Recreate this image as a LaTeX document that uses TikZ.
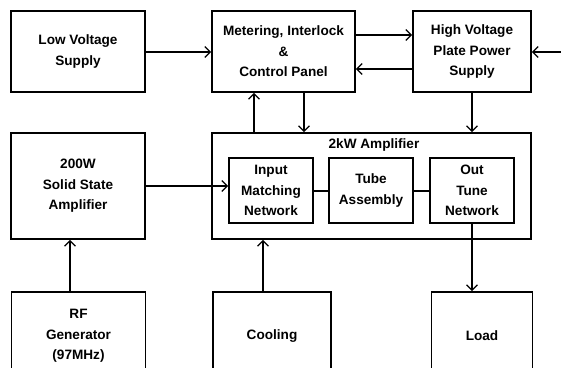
\documentclass[tikz,border=0pt]{standalone}
\usepackage{fontspec}
\setmainfont{Liberation Sans}
\usetikzlibrary{arrows.meta}
\tikzset{
  blk/.style={draw,line width=1.6pt,align=center,inner sep=0pt,
    font=\fontsize{13.6}{20.5}\selectfont\bfseries},
  arr/.style={line width=1.6pt,-{Straight Barb[length=5.5pt,width=11pt,line width=1.3pt]}}
}
\begin{document}
\begin{tikzpicture}[x=1pt,y=-1pt]
\useasboundingbox(0,0)rectangle(561,367);
\clip(0,0)rectangle(561,367);
% top row
\node[blk,minimum width=134pt,minimum height=81pt](lv)at(78,51.5){Low Voltage\\Supply};
\node[blk,minimum width=143pt,minimum height=81pt](met)at(283.5,51.5){Metering, Interlock\\\&\\Control Panel};
\node[blk,minimum width=118pt,minimum height=81pt](hv)at(472,51.5){High Voltage\\Plate Power\\Supply};
% middle row
\node[blk,minimum width=134pt,minimum height=106pt](ss)at(78,186){200W\\Solid State\\Amplifier};
\node[blk,minimum width=319pt,minimum height=106pt](amp)at(371.5,186){};
\node[font=\fontsize{13.6}{20.5}\selectfont\bfseries](amplbl)at(374,145){2kW Amplifier};
\node[blk,minimum width=84pt,minimum height=65pt](inp)at(271,190.5){Input\\Matching\\Network};
\node[blk,minimum width=84pt,minimum height=65pt](tube)at(371,190.5){Tube\\Assembly};
\node[blk,minimum width=84pt,minimum height=65pt](out)at(472,190.5){Out\\Tune\\Network};
% bottom row (cut off by the page edge)
\node[blk,minimum width=134pt,minimum height=88pt](rf)at(78.5,336){RF\\Generator\\(97MHz)};
\node[blk,minimum width=118pt,minimum height=88pt](cool)at(272,336){Cooling};
\node[blk,minimum width=101pt,minimum height=88pt](load)at(482,336){Load};
\coordinate(ext)at(566,52);
% connectors
\draw[arr]([yshift=-.5pt]lv.east)--([yshift=-.5pt]met.west);
\draw[arr]([yshift=16.5pt]met.east)--([yshift=16.5pt]hv.west);
\draw[arr]([yshift=-17.5pt]hv.west)--([yshift=-17.5pt]met.east);
\draw[arr](ext)--(ext-|hv.east);
\draw[arr]([xshift=20.5pt]met.south)--([xshift=20.5pt]met.south|-amp.north);
\draw[arr]([xshift=-29.5pt]met.south|-amp.north)--([xshift=-29.5pt]met.south);
\draw[arr](hv.south)--(hv.south|-amp.north);
\draw[arr](ss.east)--(ss.east-|inp.west);
\draw[line width=1.6pt]([yshift=-.5pt]inp.east)--([yshift=-.5pt]tube.west)
  ([yshift=-.5pt]tube.east)--([yshift=-.5pt]out.west);
\draw[arr](out.south)--(out.south|-load.north);
\draw[arr]([xshift=-8.5pt]rf.north)--([xshift=-8.5pt]rf.north|-ss.south);
\draw[arr]([xshift=-9pt]cool.north)--([xshift=-9pt]cool.north|-amp.south);
\end{tikzpicture}
\end{document}
